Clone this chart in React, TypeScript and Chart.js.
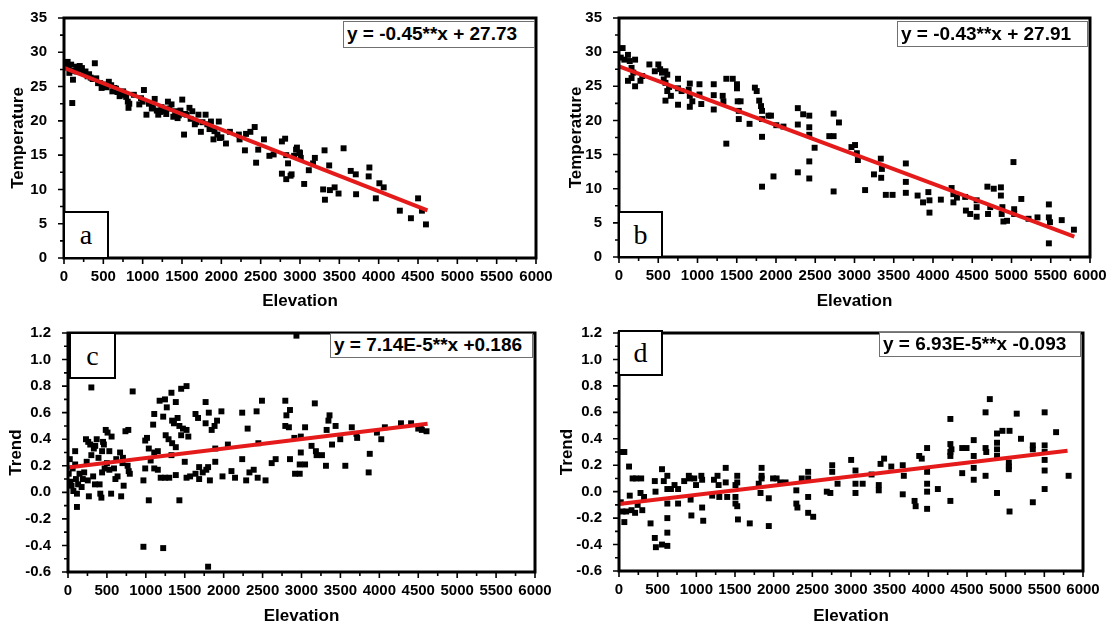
import React, { useEffect, useRef } from 'react';
import { Chart, registerables } from 'chart.js';
Chart.register(...registerables);

// ---------- tick labels ----------
const ELEV_TICKS = [0, 500, 1000, 1500, 2000, 2500, 3000, 3500, 4000, 4500, 5000, 5500, 6000];
const TEMP_TICKS = [0, 5, 10, 15, 20, 25, 30, 35];
const TREND_TICKS = [-0.6, -0.4, -0.2, 0, 0.2, 0.4, 0.6, 0.8, 1.0, 1.2];

// ---------- panel a ----------
const A_ELEV = [14, 46, 68, 91, 105, 114, 160, 160, 228, 273, 319, 364, 392, 433, 478, 524, 570, 615, 661, 707, 752, 811, 820, 888, 957, 979, 1016, 1048, 1116, 1153, 1198, 1239, 1276, 1321, 1367, 1413, 1444, 1503, 1526, 1558, 1595, 1631, 1663, 1709, 1740, 1800, 1822, 1868, 1900, 1913, 1968, 2059, 2109, 2223, 2232, 2300, 2314, 2369, 2424, 2442, 2469, 2542, 2611, 2665, 2770, 2811, 2770, 2825, 2825, 2848, 2893, 2925, 2961, 2993, 3053, 3112, 3166, 3189, 3294, 3312, 3317, 3371, 3380, 3440, 3490, 3554, 3645, 3709, 3713, 3873, 3882, 3964, 4009, 4064, 4269, 4410, 4501, 4550, 4601,
  30, 60, 130, 180, 200, 250, 300, 340, 410, 460, 500, 540, 600, 640, 680, 720, 760, 790, 830, 1000, 1080, 1130, 1180, 1220, 1300, 1340, 1390, 1460, 1480, 1540, 1610, 1680, 1760, 1850, 1950, 1980, 2000, 2950, 3000, 3010, 2880];
const A_TEMP = [28.4, 28.6, 27.0, 28.2, 22.6, 26.0, 27.9, 27.2, 27.7, 27.2, 26.8, 26.1, 28.4, 25.5, 24.8, 25.0, 25.7, 24.3, 24.7, 23.6, 24.3, 22.8, 21.9, 23.8, 22.4, 23.3, 24.5, 20.9, 21.8, 23.2, 20.9, 22.0, 21.4, 22.8, 22.4, 21.4, 20.4, 23.1, 18.0, 20.9, 21.9, 21.4, 19.5, 20.9, 18.4, 20.9, 19.5, 19.9, 17.3, 18.5, 19.9, 16.7, 18.4, 18.0, 17.3, 15.7, 18.1, 18.4, 19.1, 13.9, 15.8, 17.3, 14.9, 15.1, 17.0, 17.4, 12.3, 15.0, 11.5, 13.8, 12.2, 14.9, 16.1, 15.4, 10.8, 12.8, 13.8, 14.6, 10.0, 15.7, 8.5, 13.5, 9.9, 10.3, 9.4, 16.0, 12.7, 12.2, 9.3, 11.9, 13.2, 8.7, 10.9, 10.3, 6.9, 5.8, 8.7, 6.9, 4.9,
  27.8, 28.0, 27.3, 27.5, 28.0, 27.0, 26.5, 26.3, 26.2, 25.5, 25.3, 24.9, 25.2, 24.8, 24.2, 24.0, 23.8, 23.5, 22.5, 22.8, 22.5, 22.0, 21.5, 21.3, 21.0, 21.8, 20.6, 20.8, 21.5, 21.0, 20.3, 19.8, 19.8, 18.8, 18.0, 17.5, 17.6, 15.8, 15.3, 14.6, 12.0];
const A_FIT_ELEV = [0, 4620];
const A_FIT_TEMP = [27.73, 6.94];

// ---------- panel b ----------
const B_ELEV = [46, 23, 68, 114, 137, 160, 182, 205, 114, 205, 273, 296, 160, 387, 456, 501, 524, 547, 592, 615, 570, 592, 615, 592, 661, 638, 752, 752, 752, 797, 888, 902, 902, 902, 934, 1025, 1025, 1048, 1207, 1207, 1207, 1321, 1330, 1367, 1367, 1449, 1503, 1503, 1512, 1526, 1526, 1549, 1663, 1731, 1754, 1786, 1809, 1822, 1822, 1822, 1822, 1904, 1936, 1968, 2004, 2095, 2278, 2278, 2278, 2346, 2424, 2424, 2424, 2424, 2424, 2492, 2679, 2734, 2734, 2802, 2734, 2961, 3007, 3030, 3043, 3135, 3248, 3335, 3349, 3340, 3399, 3485, 3654, 3654, 3654, 3804, 3873, 3941, 3955, 3955, 4100, 4237, 4260, 4260, 4305, 4410, 4419, 4474, 4556, 4556, 4556, 4693, 4729, 4701, 4774, 4865, 4865, 4884, 4875, 4897, 4943, 5025, 5034, 5034, 5125, 5217, 5331, 5476, 5476, 5490, 5476, 5640, 5795];
const B_TEMP = [30.6, 29.2, 28.9, 29.6, 28.7, 27.7, 27.0, 28.9, 25.8, 25.0, 25.8, 26.5, 26.2, 28.2, 27.2, 28.2, 27.5, 27.0, 27.2, 26.7, 26.0, 25.5, 24.3, 22.9, 23.6, 24.9, 26.1, 24.7, 22.3, 24.3, 24.5, 25.4, 23.6, 22.0, 22.8, 25.3, 23.8, 22.4, 25.3, 23.7, 21.6, 23.6, 22.8, 26.1, 16.6, 26.1, 25.3, 24.7, 22.8, 21.4, 20.2, 22.8, 19.5, 24.8, 24.3, 22.9, 22.1, 21.4, 20.2, 17.6, 10.3, 20.7, 20.7, 11.8, 19.3, 19.1, 21.8, 19.4, 12.4, 20.9, 20.7, 19.0, 17.9, 14.0, 11.5, 16.0, 17.7, 17.7, 21.0, 19.7, 9.6, 16.1, 16.4, 15.2, 14.2, 9.8, 12.1, 14.4, 12.9, 11.6, 9.1, 9.1, 13.7, 11.0, 9.4, 9.0, 8.0, 9.5, 8.3, 6.5, 8.4, 10.1, 9.2, 8.0, 8.7, 8.8, 6.8, 6.3, 8.3, 7.3, 5.9, 10.3, 7.3, 6.3, 10.0, 10.2, 9.0, 7.3, 6.3, 5.2, 5.3, 13.9, 7.0, 6.3, 8.5, 5.6, 5.8, 7.7, 5.8, 5.1, 2.0, 5.4, 4.0];
const B_FIT_ELEV = [0, 5800];
const B_FIT_TEMP = [27.91, 2.97];

// ---------- panel c ----------
const C_ELEV = [300, 831, 1177, 1246, 1329, 1454, 1523, 1385, 1269, 1223, 1108, 1094, 1338, 1361, 1408, 1431, 1477, 1523, 1546, 1454, 1255, 1292, 1338, 1385, 1329, 1154, 1108, 1038, 1015, 992,
  1768, 1638, 1671, 1809, 1768, 1915, 1883, 1971, 1846, 1892, 2054, 2238, 2308, 2423, 2492, 2446,
  1062, 1108, 1154, 1191, 1246, 1301, 1385, 1500, 1523, 1569, 1638, 1685, 1685, 1731, 1777, 1800, 1823, 1892, 1985, 2100, 2146, 2238, 2289, 2331, 2386, 2437, 2538, 2617, 2668,
  992, 969, 1038, 1431, 969, 1223, 1800,
  2792, 2852, 2806, 2792, 2838, 2852, 2908, 2935, 2991, 3046, 2991, 2977, 2977, 2917, 3046, 3129, 3171, 3185, 3194, 3263, 3314, 3323, 3360, 3346, 3438, 3392, 3498, 3563, 3646, 3715, 3706, 3877, 3863, 3969, 4025, 4071, 4278, 4408, 4500, 4546, 4606, 4532,
  23, 9, 46, 69, 92, 92, 102, 115, 115, 148, 175, 208, 231, 240, 254, 268, 286, 300, 332, 323, 346, 369, 392, 406, 415, 429, 438, 438, 461, 471, 485, 508, 531, 531, 554, 591, 609, 637, 669, 683, 706, 715, 738, 775, 766, 794,
  30, 60, 130, 190, 260, 350, 450, 500, 560, 620, 700, 780];
const C_TREND = [0.79, 0.76, 0.69, 0.70, 0.75, 0.78, 0.80, 0.68, 0.64, 0.57, 0.59, 0.51, 0.54, 0.52, 0.56, 0.50, 0.48, 0.47, 0.42, 0.43, 0.43, 0.40, 0.37, 0.34, 0.28, 0.31, 0.30, 0.33, 0.41, 0.39,
  0.68, 0.59, 0.56, 0.60, 0.52, 0.54, 0.50, 0.61, 0.47, 0.33, 0.36, 0.60, 0.48, 0.61, 0.69, 0.37,
  0.24, 0.18, 0.17, 0.11, 0.11, 0.11, 0.13, 0.23, 0.11, 0.12, 0.14, 0.19, 0.10, 0.15, 0.17, 0.19, 0.09, 0.23, 0.12, 0.16, 0.11, 0.25, 0.09, 0.15, 0.17, 0.11, 0.09, 0.22, 0.25,
  0.18, 0.09, -0.06, -0.06, -0.41, -0.42, -0.56,
  0.69, 0.62, 0.58, 0.50, 0.49, 0.25, 0.41, 1.18, 0.42, 0.49, 0.30, 0.21, 0.14, 0.14, 0.21, 0.35, 0.67, 0.31, 0.28, 0.28, 0.20, 0.47, 0.58, 0.54, 0.50, 0.36, 0.40, 0.20, 0.49, 0.41, 0.44, 0.29, 0.15, 0.45, 0.40, 0.49, 0.52, 0.52, 0.48, 0.47, 0.46, 0.49,
  0.25, 0.14, 0.05, 0.01, 0.31, 0.21, 0.10, -0.01, -0.11, 0.14, 0.04, 0.15, 0.40, 0.23, 0.09, -0.03, 0.36, 0.28, 0.33, 0.12, 0.06, 0.40, 0.26, 0.06, -0.01, -0.04, 0.31, 0.15, 0.36, 0.18, 0.47, 0.45, 0.31, 0.17, -0.01, 0.18, 0.10, 0.12, 0.30, -0.03, 0.26, 0.05, 0.46, 0.47, 0.20, 0.14,
  0.08, 0.18, 0.06, 0.10, 0.38, 0.35, 0.38, 0.22, 0.42, 0.25, 0.22, 0.16];
const C_FIT_ELEV = [0, 4620];
const C_FIT_TREND = [0.186, 0.516];

// ---------- panel d ----------
const D_ELEV = [46, 69, 23, 46, 69, 93, 130, 139, 162, 176, 208, 222, 241, 287, 278, 301, 324, 408, 463, 472, 463, 477, 556, 579, 556, 625, 625, 625, 625, 625, 625, 672, 718, 764, 764, 843, 903, 917, 926, 936, 973, 996, 1065, 1075, 1075, 1089, 1205, 1228, 1274, 1288, 1297, 1380, 1380, 1399, 1506, 1529, 1529, 1506, 1506, 1529, 1538, 1691, 1807, 1830, 1844, 1844, 1844, 1937, 1937, 1992, 2038, 2085, 2154, 2293, 2293, 2307, 2363, 2446, 2446, 2446, 2446, 2511, 2687, 2733, 2757, 2757, 2826, 3002, 3058, 3058, 3058, 3151, 3266, 3359, 3359, 3382, 3428, 3521, 3669, 3683, 3669, 3822, 3836, 3882, 3915, 3984, 3984, 3984, 3984, 3984, 4123, 4285, 4285, 4285, 4285, 4285, 4299, 4438, 4494, 4438, 4587, 4587, 4587, 4587, 4740, 4740, 4749, 4740, 4795, 4888, 4888, 4888, 4888, 4888, 4958, 5050, 5041, 5041, 5041, 5050, 5143, 5198, 5351, 5351, 5351, 5504, 5504, 5504, 5504, 5504, 5504, 5652, 5814];
const D_TREND = [0.30, 0.30, -0.08, -0.15, -0.23, -0.15, 0.19, -0.03, -0.14, 0.10, -0.16, 0.10, -0.10, 0.10, -0.01, -0.14, -0.04, -0.24, 0.08, 0.00, -0.35, -0.42, 0.17, 0.08, -0.40, 0.12, 0.02, -0.09, -0.20, -0.31, -0.41, 0.02, 0.05, 0.02, -0.09, 0.08, 0.12, 0.10, -0.06, -0.18, 0.10, 0.05, 0.12, 0.09, -0.12, -0.22, -0.03, 0.09, 0.12, 0.05, -0.04, 0.18, 0.07, -0.04, 0.05, 0.12, 0.07, -0.04, -0.09, -0.11, -0.21, -0.24, 0.06, -0.01, 0.18, 0.12, 0.10, -0.05, -0.26, 0.10, 0.10, 0.07, 0.07, 0.01, -0.09, -0.12, 0.10, 0.15, 0.10, -0.04, -0.16, -0.19, 0.00, -0.01, 0.20, 0.15, 0.06, 0.24, 0.16, 0.06, -0.01, 0.06, 0.13, 0.05, 0.01, 0.21, 0.25, 0.19, 0.20, 0.12, -0.02, -0.07, -0.11, 0.27, 0.25, 0.33, 0.15, 0.06, 0.00, -0.13, 0.02, 0.55, 0.36, 0.30, 0.27, -0.07, 0.32, 0.33, 0.33, 0.14, 0.39, 0.27, 0.18, 0.09, 0.60, 0.33, 0.30, 0.12, 0.70, 0.44, 0.37, 0.32, 0.27, -0.01, 0.46, 0.46, 0.22, 0.19, 0.17, -0.15, 0.59, 0.40, 0.35, 0.32, -0.08, 0.60, 0.35, 0.30, 0.24, 0.16, 0.02, 0.45, 0.12];
const D_FIT_ELEV = [0, 5800];
const D_FIT_TREND = [-0.093, 0.309];

// ---------- layout / style (not data) ----------
const FONT = '"Liberation Sans", Arial, Helvetica, sans-serif';
const SERIF = '"Liberation Serif", "Times New Roman", serif';

type PanelCfg = {
  key: string;
  left: number; top: number; width: number; height: number;
  padTop: number; padRight: number; yAxisW: number; xAxisH: number;
  yTitlePad: number; xTitlePad: number;
  xs: number[]; ys: number[]; fx: number[]; fy: number[];
  yTicks: number[]; decimals: number; yTitle: string;
  eq: string; eqBox: [number, number, number, number];
  letter: string; letterBox: [number, number, number, number];
};

const PANELS: PanelCfg[] = [
  { key: 'a', left: 0, top: 0, width: 557, height: 315, padTop: 17, padRight: 21, yAxisW: 64, xAxisH: 57, yTitlePad: 8, xTitlePad: 3,
    xs: A_ELEV, ys: A_TEMP, fx: A_FIT_ELEV, fy: A_FIT_TEMP, yTicks: TEMP_TICKS, decimals: 0, yTitle: 'Temperature',
    eq: 'y = -0.45**x + 27.73', eqBox: [343, 21, 192, 27], letter: 'a', letterBox: [63, 211, 46, 48] },
  { key: 'b', left: 557, top: 0, width: 557, height: 315, padTop: 17, padRight: 24, yAxisW: 62, xAxisH: 58, yTitlePad: 9, xTitlePad: 3,
    xs: B_ELEV, ys: B_TEMP, fx: B_FIT_ELEV, fy: B_FIT_TEMP, yTicks: TEMP_TICKS, decimals: 0, yTitle: 'Temperature',
    eq: 'y = -0.43**x + 27.91', eqBox: [897, 21, 191, 26], letter: 'b', letterBox: [618, 211, 45, 47] },
  { key: 'c', left: 0, top: 315, width: 557, height: 315, padTop: 15, padRight: 22, yAxisW: 68, xAxisH: 58, yTitlePad: 6, xTitlePad: 3,
    xs: C_ELEV, ys: C_TREND, fx: C_FIT_ELEV, fy: C_FIT_TREND, yTicks: TREND_TICKS, decimals: 1, yTitle: 'Trend',
    eq: 'y = 7.14E-5**x +0.186', eqBox: [330, 333, 203, 25], letter: 'c', letterBox: [69, 332, 47, 47] },
  { key: 'd', left: 557, top: 315, width: 557, height: 315, padTop: 13, padRight: 31, yAxisW: 62, xAxisH: 59, yTitlePad: 0.5, xTitlePad: 3,
    xs: D_ELEV, ys: D_TREND, fx: D_FIT_ELEV, fy: D_FIT_TREND, yTicks: TREND_TICKS, decimals: 1, yTitle: 'Trend',
    eq: 'y = 6.93E-5**x -0.093', eqBox: [879, 332, 202, 25], letter: 'd', letterBox: [618, 330, 45, 46] },
];

const framePlugin = {
  id: 'frameTicks',
  afterDatasetsDraw(chart: any) {
    const { ctx, chartArea: a, scales } = chart;
    const xs = scales.x, ys = scales.y;
    ctx.save();
    ctx.strokeStyle = '#000';
    ctx.lineWidth = 1.6;
    const xv: number[] = xs.ticks.map((t: any) => t.value);
    const yv: number[] = ys.ticks.map((t: any) => t.value);
    ctx.beginPath();
    for (let i = 0; i < xv.length; i++) {
      const p = xs.getPixelForValue(xv[i]);
      ctx.moveTo(p, a.bottom); ctx.lineTo(p, a.bottom + 6);
      if (i < xv.length - 1) {
        const m = xs.getPixelForValue((xv[i] + xv[i + 1]) / 2);
        ctx.moveTo(m, a.bottom); ctx.lineTo(m, a.bottom + 4);
      }
    }
    for (let i = 0; i < yv.length; i++) {
      const p = ys.getPixelForValue(yv[i]);
      ctx.moveTo(a.left, p); ctx.lineTo(a.left - 6, p);
      if (i < yv.length - 1) {
        const m = ys.getPixelForValue((yv[i] + yv[i + 1]) / 2);
        ctx.moveTo(a.left, m); ctx.lineTo(a.left - 4, m);
      }
    }
    ctx.stroke();
    ctx.lineWidth = 3;
    ctx.strokeRect(a.left, a.top, a.right - a.left, a.bottom - a.top);
    ctx.restore();
  },
};

function Panel({ cfg }: { cfg: PanelCfg }) {
  const ref = useRef<HTMLCanvasElement | null>(null);
  useEffect(() => {
    if (!ref.current) return;
    const pts = cfg.xs.map((x, i) => ({ x, y: cfg.ys[i] }));
    const fit = cfg.fx.map((x, i) => ({ x, y: cfg.fy[i] }));
    const chart = new Chart(ref.current, {
      type: 'scatter',
      data: {
        datasets: [
          { label: 'fit', data: fit, showLine: true, borderColor: '#e51b1b', borderWidth: 4, pointRadius: 0, order: 0, borderCapStyle: 'butt' } as any,
          { label: 'obs', data: pts, pointStyle: 'rect', pointRadius: 4.2, backgroundColor: '#000', borderWidth: 0, order: 1 } as any,
        ],
      },
      options: {
        animation: false,
        responsive: false,
        maintainAspectRatio: false,
        events: [],
        layout: { padding: { top: cfg.padTop, right: cfg.padRight, left: 0, bottom: 0 } },
        plugins: { legend: { display: false }, tooltip: { enabled: false } },
        scales: {
          x: {
            type: 'linear', min: 0, max: 6000,
            afterBuildTicks: (s: any) => { s.ticks = ELEV_TICKS.map((v) => ({ value: v })); },
            afterFit: (s: any) => { s.height = cfg.xAxisH; },
            grid: { display: false },
            border: { display: false },
            ticks: { autoSkip: false, maxRotation: 0, padding: 2, color: '#000', font: { family: FONT, size: 15, weight: 'bold' }, callback: (v: any) => String(v) },
            title: { display: true, text: 'Elevation', color: '#000', font: { family: FONT, size: 17, weight: 'bold' }, padding: { top: 0, bottom: cfg.xTitlePad } },
          },
          y: {
            type: 'linear', min: cfg.yTicks[0], max: cfg.yTicks[cfg.yTicks.length - 1],
            afterBuildTicks: (s: any) => { s.ticks = cfg.yTicks.map((v) => ({ value: v })); },
            afterFit: (s: any) => { s.width = cfg.yAxisW; },
            grid: { display: false },
            border: { display: false },
            ticks: { padding: 9, color: '#000', font: { family: FONT, size: 15, weight: 'bold' }, callback: (v: any) => Number(v).toFixed(cfg.decimals) },
            title: { display: true, text: cfg.yTitle, color: '#000', font: { family: FONT, size: 17, weight: 'bold' }, padding: { top: cfg.yTitlePad, bottom: 0 } },
          },
        },
      } as any,
      plugins: [framePlugin],
    });
    return () => chart.destroy();
  }, [cfg]);
  return (
    <canvas ref={ref} width={cfg.width} height={cfg.height}
      style={{ position: 'absolute', left: cfg.left, top: cfg.top, width: cfg.width, height: cfg.height }} />
  );
}

export default function App() {
  useEffect(() => { document.body.style.margin = '0'; }, []);
  return (
    <div style={{ position: 'absolute', left: 0, top: 0, width: 1114, height: 630, background: '#fff', overflow: 'hidden' }}>
      {PANELS.map((p) => <Panel key={p.key} cfg={p} />)}
      {PANELS.map((p) => (
        <div key={'eq' + p.key} style={{
          position: 'absolute', left: p.eqBox[0], top: p.eqBox[1], width: p.eqBox[2], height: p.eqBox[3],
          boxSizing: 'border-box', border: '1.5px solid #707070', background: '#fff', color: '#000',
          font: `bold 19px ${FONT}`, lineHeight: `${p.eqBox[3] - 3}px`, paddingLeft: 3, whiteSpace: 'nowrap', overflow: 'hidden',
        }}>{p.eq}</div>
      ))}
      {PANELS.map((p) => (
        <div key={'lt' + p.key} style={{
          position: 'absolute', left: p.letterBox[0], top: p.letterBox[1], width: p.letterBox[2], height: p.letterBox[3],
          boxSizing: 'border-box', border: '2px solid #000', background: '#fff', color: '#000',
          font: `28px ${SERIF}`, display: 'flex', alignItems: 'center', justifyContent: 'center',
        }}>{p.letter}</div>
      ))}
    </div>
  );
}
